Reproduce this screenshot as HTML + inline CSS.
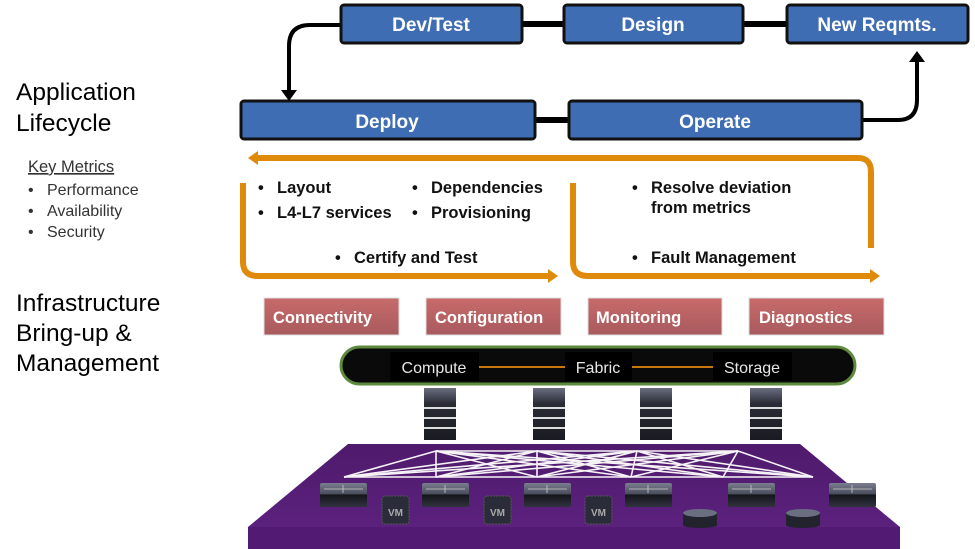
<!DOCTYPE html>
<html><head><meta charset="utf-8"><style>
html,body{margin:0;padding:0;background:#fff;width:975px;height:549px;overflow:hidden}
svg{display:block}
text{font-family:"Liberation Sans",sans-serif}
</style></head><body>
<svg width="975" height="549" viewBox="0 0 975 549" xmlns="http://www.w3.org/2000/svg">
<defs>
<linearGradient id="srv" x1="0" y1="0" x2="0" y2="1"><stop offset="0" stop-color="#6a6e80"/><stop offset="0.3" stop-color="#2a2c36"/><stop offset="1" stop-color="#1a1b22"/></linearGradient>
<linearGradient id="sw" x1="0" y1="0" x2="0" y2="1"><stop offset="0" stop-color="#7a7e90"/><stop offset="0.45" stop-color="#4a4d5c"/><stop offset="0.5" stop-color="#15161c"/><stop offset="1" stop-color="#30323e"/></linearGradient>
<linearGradient id="red" x1="0" y1="0" x2="0" y2="1"><stop offset="0" stop-color="#c86a6a"/><stop offset="1" stop-color="#a85a5e"/></linearGradient>
<linearGradient id="plat" x1="0" y1="0" x2="0" y2="1"><stop offset="0" stop-color="#4f1a6c"/><stop offset="1" stop-color="#5e2382"/></linearGradient>
</defs>

<!-- left text -->
<text x="16" y="100" font-size="24.5" fill="#000">Application</text>
<text x="16" y="131" font-size="24.5" fill="#000">Lifecycle</text>
<text x="28" y="172" font-size="16.5" fill="#333" text-decoration="underline">Key Metrics</text>
<text x="28" y="195" font-size="16" fill="#333">•</text><text x="47" y="195" font-size="16" fill="#333">Performance</text>
<text x="28" y="216" font-size="16" fill="#333">•</text><text x="47" y="216" font-size="16" fill="#333">Availability</text>
<text x="28" y="237" font-size="16" fill="#333">•</text><text x="47" y="237" font-size="16" fill="#333">Security</text>
<text x="16" y="311" font-size="24.5" fill="#000">Infrastructure</text>
<text x="16" y="341" font-size="24.5" fill="#000">Bring-up &amp;</text>
<text x="16" y="371" font-size="24.5" fill="#000">Management</text>

<!-- connectors -->
<line x1="520" y1="24" x2="566" y2="24" stroke="#000" stroke-width="6"/>
<line x1="740" y1="24" x2="790" y2="24" stroke="#000" stroke-width="6"/>
<line x1="532" y1="120" x2="570" y2="120" stroke="#000" stroke-width="6"/>
<path d="M342 25 H310 Q289 25 289 46 V92" fill="none" stroke="#000" stroke-width="4"/>
<polygon points="281,90 297,90 289,101" fill="#000"/>
<path d="M860 120 H898 Q917 120 917 100 V60" fill="none" stroke="#000" stroke-width="4"/>
<polygon points="909,62 925,62 917,51" fill="#000"/>

<!-- blue boxes -->
<g font-size="19" font-weight="bold" fill="#fff" text-anchor="middle">
<rect x="341" y="5" width="181" height="38" rx="3" fill="#3f6db3" stroke="#111" stroke-width="3"/>
<text x="431" y="31">Dev/Test</text>
<rect x="564" y="5" width="179" height="38" rx="3" fill="#3f6db3" stroke="#111" stroke-width="3"/>
<text x="653" y="31">Design</text>
<rect x="787" y="5" width="181" height="38" rx="3" fill="#3f6db3" stroke="#111" stroke-width="3"/>
<text x="877" y="31">New Reqmts.</text>
<rect x="241" y="101" width="294" height="38" rx="3" fill="#3f6db3" stroke="#111" stroke-width="3"/>
<text x="387" y="128">Deploy</text>
<rect x="569" y="101" width="293" height="38" rx="3" fill="#3f6db3" stroke="#111" stroke-width="3"/>
<text x="715" y="128">Operate</text>
</g>

<!-- orange loop -->
<g fill="none" stroke="#e08a0c" stroke-width="6">
<path d="M256 158 H858 Q871 158 871 172 V248"/>
<path d="M243 183 V262 Q243 276 258 276 H550"/>
<path d="M573 183 V262 Q573 276 588 276 H872"/>
</g>
<polygon points="248,158 258,151 258,165" fill="#e08a0c"/>
<polygon points="558,276 548,269 548,283" fill="#e08a0c"/>
<polygon points="880,276 870,269 870,283" fill="#e08a0c"/>

<!-- bullets -->
<g font-size="16.5" font-weight="bold" fill="#111">
<text x="258" y="193">•</text><text x="277" y="193">Layout</text>
<text x="258" y="218">•</text><text x="277" y="218">L4-L7 services</text>
<text x="412" y="193">•</text><text x="431" y="193">Dependencies</text>
<text x="412" y="218">•</text><text x="431" y="218">Provisioning</text>
<text x="335" y="263">•</text><text x="354" y="263">Certify and Test</text>
<text x="632" y="193">•</text><text x="651" y="193">Resolve deviation</text>
<text x="651" y="213">from metrics</text>
<text x="632" y="263">•</text><text x="651" y="263">Fault Management</text>
</g>

<!-- red boxes -->
<g font-size="16.5" font-weight="bold" fill="#fff">
<rect x="264" y="298" width="135" height="37" fill="url(#red)" stroke="#ddd"/>
<text x="273" y="323">Connectivity</text>
<rect x="426" y="298" width="135" height="37" fill="url(#red)" stroke="#ddd"/>
<text x="435" y="323">Configuration</text>
<rect x="588" y="298" width="134" height="37" fill="url(#red)" stroke="#ddd"/>
<text x="596" y="323">Monitoring</text>
<rect x="749" y="298" width="135" height="37" fill="url(#red)" stroke="#ddd"/>
<text x="759" y="323">Diagnostics</text>
</g>

<!-- pill -->
<rect x="341" y="347" width="514" height="37" rx="18.5" fill="#0a0a0a" stroke="#5e8a3e" stroke-width="3"/>
<rect x="390" y="352" width="89" height="29" fill="#000"/>
<rect x="565" y="352" width="67" height="29" fill="#000"/>
<rect x="713" y="352" width="79" height="29" fill="#000"/>
<line x1="479" y1="367" x2="565" y2="367" stroke="#c8770e" stroke-width="2"/>
<line x1="632" y1="367" x2="713" y2="367" stroke="#c8770e" stroke-width="2"/>
<g font-size="16" fill="#e6e6e6" text-anchor="middle">
<text x="434" y="373">Compute</text><text x="598" y="373">Fabric</text><text x="752" y="373">Storage</text>
</g>

<!-- servers -->
<g>
<g id="s"><rect x="424" y="388" width="32" height="52" fill="url(#srv)"/>
<rect x="424" y="407" width="32" height="2" fill="#ddd"/><rect x="424" y="417" width="32" height="2" fill="#ddd"/><rect x="424" y="427" width="32" height="2" fill="#ddd"/></g>
<use href="#s" x="109"/><use href="#s" x="216"/><use href="#s" x="326"/>
</g>

<!-- platform -->
<polygon points="348,444 800,444 900,527 900,549 248,549 248,527" fill="url(#plat)"/>
<rect x="248" y="527" width="652" height="22" fill="#521a72"/>

<!-- mesh -->
<g stroke="#fff" stroke-width="1.6" opacity="0.95">
<path d="M436 451 L537 451 L637 451 L738 451"/>
<path d="M344 477 L436 477 L537 477 L631 477 L723 477 L813 477"/>
<path d="M436 451 L344 477 M436 451 L436 477 M436 451 L537 477 M436 451 L631 477 M436 451 L723 477 M436 451 L813 477"/>
<path d="M537 451 L344 477 M537 451 L436 477 M537 451 L537 477 M537 451 L631 477 M537 451 L723 477 M537 451 L813 477"/>
<path d="M637 451 L344 477 M637 451 L436 477 M637 451 L537 477 M637 451 L631 477 M637 451 L723 477 M637 451 L813 477"/>
<path d="M738 451 L344 477 M738 451 L436 477 M738 451 L537 477 M738 451 L631 477 M738 451 L723 477 M738 451 L813 477"/>
</g>

<!-- switches -->
<g>
<g id="w"><rect x="320" y="483" width="47" height="24" rx="2" fill="url(#sw)"/>
<line x1="324" y1="489" x2="363" y2="489" stroke="#ccc" stroke-width="0.8"/><line x1="343" y1="485" x2="343" y2="493" stroke="#ccc" stroke-width="0.8"/></g>
<use href="#w" x="102"/><use href="#w" x="204"/><use href="#w" x="305"/><use href="#w" x="408"/><use href="#w" x="509"/>
</g>
<!-- VMs -->
<g>
<g id="v"><rect x="382" y="496" width="27" height="28" rx="3" fill="#2a2c3a" stroke="#555" stroke-dasharray="2,1"/>
<text x="395.5" y="516" font-size="10" font-weight="bold" fill="#aaa" text-anchor="middle">VM</text></g>
<use href="#v" x="102"/><use href="#v" x="203"/>
</g>
<!-- disks -->
<g>
<g id="d"><rect x="683" y="513" width="34" height="12" fill="#22232c"/>
<ellipse cx="700" cy="525" rx="17" ry="3" fill="#22232c"/>
<ellipse cx="700" cy="513" rx="17" ry="4" fill="#6a6e80"/></g>
<use href="#d" x="103"/>
</g>
</svg>
</body></html>
